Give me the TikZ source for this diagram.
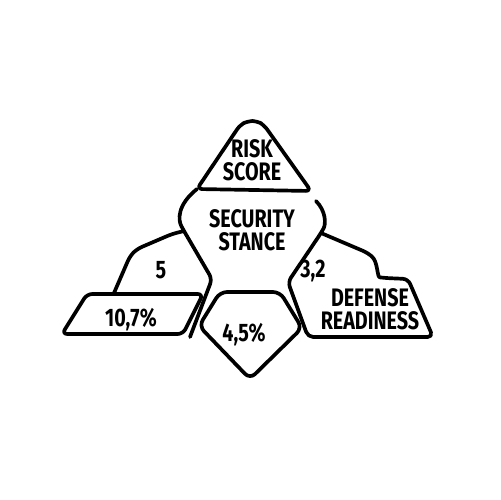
\documentclass[tikz,border=0pt]{standalone}
\usepackage{fontspec}
\setmainfont{Fira Sans}[FakeStretch=0.78]
\usetikzlibrary{positioning}
\tikzset{
  outline/.style={line width=2.1pt, line join=round, line cap=round, rounded corners=3pt},
  figure/.style={font=\bfseries\fontsize{14.4}{13}\selectfont, inner sep=0pt, align=center},
}

\begin{document}
\begin{tikzpicture}[x=0.02cm, y=-0.02cm]
  \useasboundingbox (0,0) rectangle (500,500);
  \coordinate (TL) at (197,189);
  \coordinate (TR) at (311,191);
  \coordinate (ML) at (184,231);
  \coordinate (MR) at (321,233);
  % risk score
  \draw[outline] (TL) -- (240,125) -- (248,121) -- (257,121) -- (264,125) -- (TR) -- cycle;
  % security stance, left side
  \draw[outline] (TL) .. controls (177,205) and (178,220) .. (ML) -- (212,279) -- (190,337);
  % security stance, right side and defense readiness
  \draw[outline] (316,201) .. controls (326,211) and (326,224) .. (MR) -- (288,282) -- (308,337)
    -- (433,337) -- (408,279) -- (385,278) .. controls (377,277) and (378,262) .. (368,253) -- (MR);
  % five
  \draw[outline] (ML) -- (172,234) -- (137,249) -- (130,256) -- (114,293);
  \draw[outline] (87,294) -- (203,294) -- (183,334) -- (62,334) -- cycle;
  % bottom piece
  \draw[outline, rounded corners=4pt] (220,292) -- (280,292) -- (302,328) -- (250,379) -- (199,326) -- cycle;

  \node[figure] (risk) at (252,160) {RISK\\SCORE};
  \node[figure] (stance) at (252,230) {SECURITY\\STANCE};
  \node[figure, text height=10pt, text depth=0pt] (five) at (161,270) {5};
  \node[figure, text height=10pt, text depth=0pt] (tenseven) at (131,318) {10,7\%};
  \node[figure, text height=10pt, text depth=0pt] (fourfive) at (244,333) {4,5\%};
  \node[figure, text height=10pt, text depth=0pt] (threetwo) at (313,269) {3,2};
  \node[figure] (defense) at (370,309) {DEFENSE\\READINESS};
\end{tikzpicture}
\end{document}
